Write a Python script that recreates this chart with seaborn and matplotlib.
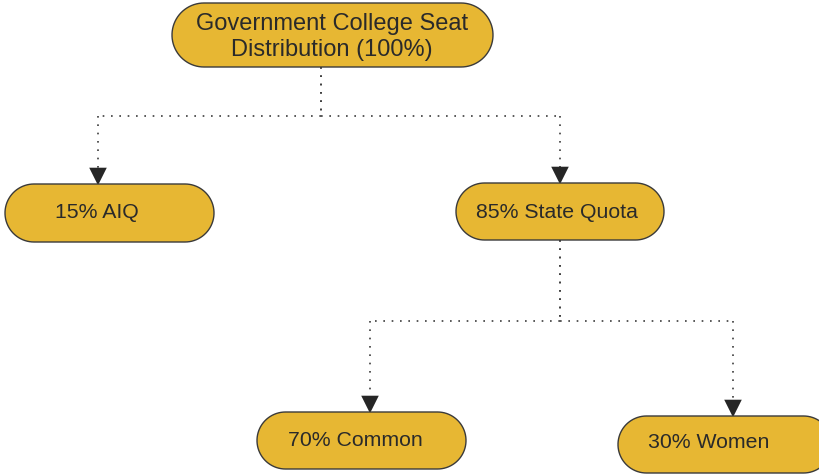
import matplotlib
matplotlib.use("Agg")
import matplotlib.pyplot as plt
from matplotlib.patches import PathPatch
from matplotlib.path import Path
import numpy as np
import pandas as pd
import seaborn as sns

# node labels and tree edges (parent -> child)
labels = ["Government College Seat\nDistribution (100%)", "15% AIQ",
          "85% State Quota", "70% Common", "30% Women"]
edges = [(0, 1), (0, 2), (2, 3), (2, 4)]

# layout in pixels (x0, x1, y0, y1), text centre, connector x
boxes = [(172, 493, 3, 67), (5, 214, 184, 242), (456, 664, 183, 240),
         (257, 466, 412, 469), (618, 832, 416, 473)]
text_xy = [(332, 37), (97, 212), (557, 212), (355, 441), (709, 443)]
font_sizes = [17, 15.3, 15.3, 15.3, 15.3]
out_x = {0: 321, 2: 560}
in_x = {1: 98, 2: 560, 3: 370, 4: 733}
bus_y = {0: 116, 2: 321}

sns.set_theme(style="white")
plt.rcParams['font.family'] = ['Liberation Sans', 'DejaVu Sans']

FILL = "#E7B733"
EDGE = "#3a3a3a"
LINE = "#3c3c3c"


def pill(x0, x1, y0, y1):
    # rectangle with semicircular ends
    r = (y1 - y0) / 2
    cy = (y0 + y1) / 2
    t = np.linspace(-np.pi / 2, np.pi / 2, 40)
    right = np.column_stack([x1 - r + r * np.cos(t), cy + r * np.sin(t)])
    left = np.column_stack([x0 + r - r * np.cos(t), cy - r * np.sin(t)])
    pts = np.vstack([right, left, right[:1]])
    return Path(pts, closed=True)


fig = plt.figure(figsize=(8.19, 4.76), dpi=100)
ax = fig.add_axes([0, 0, 1, 1])
ax.set_xlim(0, 819)
ax.set_ylim(476, 0)
ax.axis("off")

# dotted connectors
heads = []
for p, c in edges:
    y_top = boxes[p][3]
    y_bot = boxes[c][2]
    ax.plot([out_x[p], out_x[p]], [y_top, bus_y[p]], color=LINE, lw=1.2, ls=(0, (1, 4)))
    ax.plot([out_x[p], in_x[c]], [bus_y[p], bus_y[p]], color=LINE, lw=1.2, ls=(0, (1, 4)))
    ax.plot([in_x[c], in_x[c]], [bus_y[p], y_bot - 14], color=LINE, lw=1.2, ls=(0, (1, 4)))
    heads.append({"x": in_x[c], "y": y_bot - 7.5})

sns.scatterplot(data=pd.DataFrame(heads), x="x", y="y", marker="v", s=160,
                color="#262626", edgecolor="none", ax=ax, legend=False, zorder=3)

# rounded boxes
for (x0, x1, y0, y1), lab, (tx, ty), fs in zip(boxes, labels, text_xy, font_sizes):
    ax.add_patch(PathPatch(pill(x0, x1, y0, y1), facecolor=FILL,
                           edgecolor=EDGE, lw=1.0, zorder=4))
    ax.text(tx, ty, lab, ha="center", va="center", fontsize=fs,
            color="#2a2a2a", linespacing=1.2, zorder=5)

ax.set_xlim(0, 819)
ax.set_ylim(476, 0)
fig.savefig("out.png", dpi=100)
